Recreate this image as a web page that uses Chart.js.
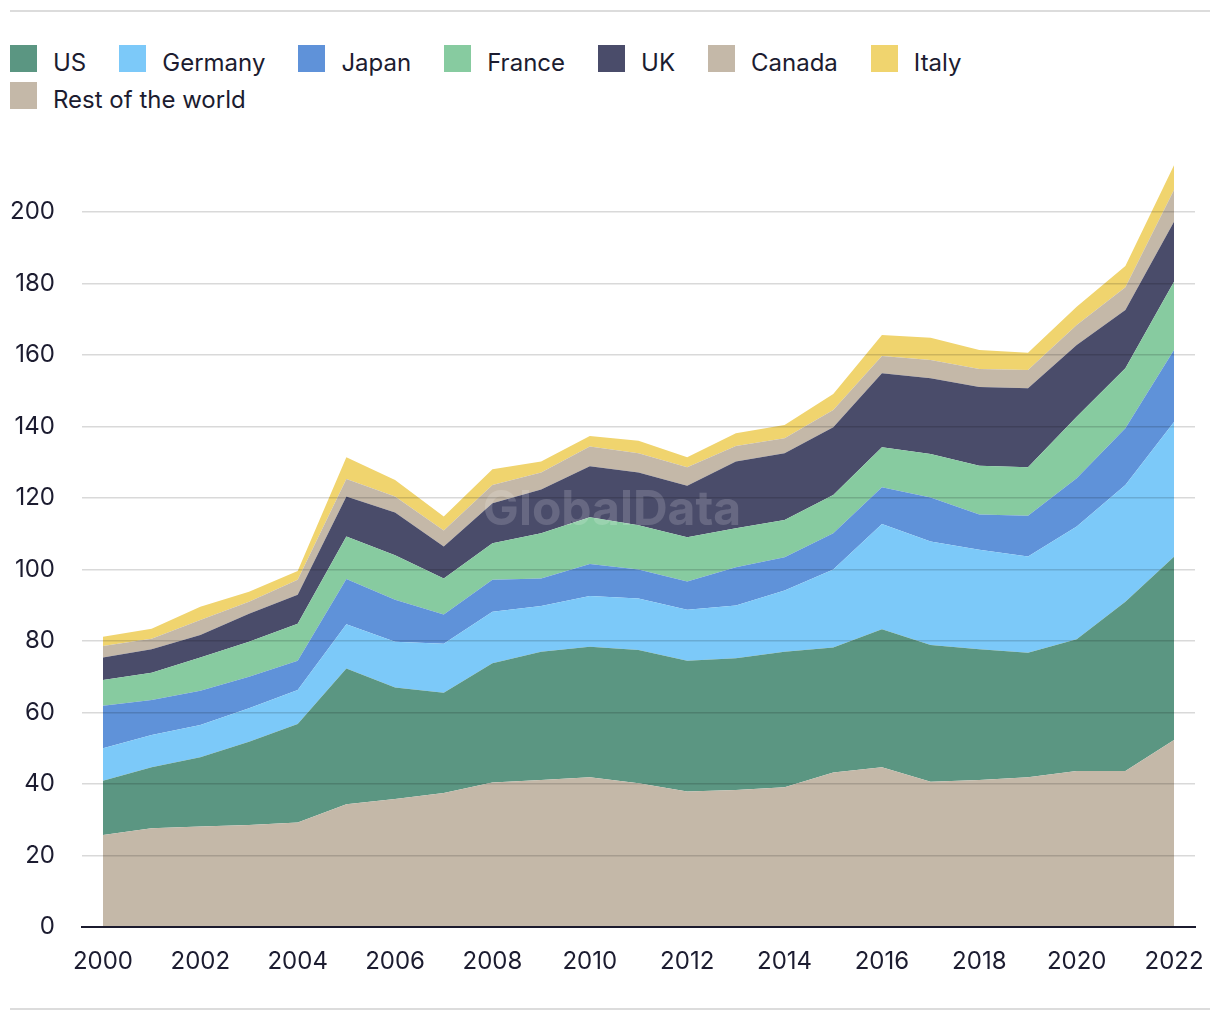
<!DOCTYPE html>
<html>
<head>
<meta charset="utf-8">
<script src="https://cdn.jsdelivr.net/npm/chart.js@4/dist/chart.umd.min.js"></script>
<style>
  html, body { margin: 0; padding: 0; background: #fff; }
  #wrap { position: relative; width: 1220px; height: 1020px; overflow: hidden; }
  .rule { position: absolute; left: 10px; width: 1200px; height: 2px; background: #dcdcdc; }
  #legend { position: absolute; left: 10px; top: 45px; width: 1100px; display: flex; flex-wrap: wrap; row-gap: 10px; }
  .item { display: flex; align-items: center; height: 27px; margin-right: 33px; }
  .box { width: 27px; height: 27px; margin-right: 16px; }
  .lbl { font-family: Inter, "Liberation Sans", sans-serif; font-size: 24px; color: #1c1c30; position: relative; top: 4px; white-space: nowrap; }
  canvas { position: absolute; left: 0; top: 0; }
</style>
</head>
<body>
<div id="wrap">
  <div class="rule" style="top:10px"></div>
  <div class="rule" style="top:1008px"></div>
  <div id="legend"></div>
  <canvas id="c" width="1220" height="1020"></canvas>
</div>
<script>
// ---- Data ----
const years = [2000,2001,2002,2003,2004,2005,2006,2007,2008,2009,2010,2011,2012,2013,2014,2015,2016,2017,2018,2019,2020,2021,2022];
const xTickLabels = [2000,2002,2004,2006,2008,2010,2012,2014,2016,2018,2020,2022];
const yTickLabels = [0,20,40,60,80,100,120,140,160,180,200];

const restOfWorld = [25.7,27.6,28.1,28.5,29.2,34.3,35.8,37.5,40.4,41.1,41.9,40.2,37.9,38.3,39.1,43.2,44.7,40.6,41.1,41.9,43.6,43.6,52.3];
const us          = [15.2,17.1,19.4,23.3,27.6,38.0,31.2,28.0,33.4,35.9,36.5,37.3,36.6,36.9,37.9,35.0,38.6,38.3,36.6,34.8,36.9,47.4,51.3];
const germany     = [9.1,9.0,9.0,9.4,9.5,12.4,12.8,13.7,14.4,12.8,14.2,14.4,14.2,14.7,17.1,21.8,29.4,28.9,27.8,26.9,31.5,32.6,37.7];
const japan       = [11.9,9.8,9.6,8.8,8.2,12.6,11.7,8.2,8.9,7.7,8.9,8.1,7.9,10.7,9.3,10.1,10.3,12.3,9.9,11.4,13.5,15.9,20.1];
const france      = [7.2,7.6,9.3,9.8,10.3,11.9,12.5,10.1,10.2,12.6,13.1,12.4,12.4,10.9,10.4,10.7,11.2,12.2,13.6,13.6,17.2,16.8,19.1];
const uk          = [6.3,6.6,6.3,7.8,8.1,11.2,11.9,8.9,11.2,12.3,14.3,14.7,14.4,18.7,18.7,19.0,20.7,21.2,22.0,22.1,20.1,16.3,16.8];
const canada      = [3.2,2.9,4.2,3.4,4.2,4.9,4.5,4.5,5.1,4.7,5.5,5.4,5.2,4.3,4.2,4.8,4.8,5.1,5.1,5.1,5.6,6.3,8.9];
const italy       = [2.6,2.8,3.7,2.8,2.5,6.1,4.6,3.9,4.4,3.1,2.9,3.5,2.8,3.6,3.7,4.5,5.9,6.2,5.3,4.8,5.1,6.0,6.9];

// legend order and stacking order
const legendNames = ["US","Germany","Japan","France","UK","Canada","Italy","Rest of the world"];
const stackNames  = ["Rest of the world","US","Germany","Japan","France","UK","Canada","Italy"];
const stackValues = [restOfWorld, us, germany, japan, france, uk, canada, italy];
const colors = {
  "US": "#5b9682",
  "Germany": "#7cc9f9",
  "Japan": "#5f92d9",
  "France": "#87cba0",
  "UK": "#4a4c6a",
  "Canada": "#c4b8a8",
  "Italy": "#f0d46e",
  "Rest of the world": "#c4b8a8"
};

// ---- HTML legend ----
const legendEl = document.getElementById('legend');
legendNames.forEach(n => {
  const it = document.createElement('div'); it.className = 'item';
  const b = document.createElement('div'); b.className = 'box'; b.style.background = colors[n];
  const l = document.createElement('div'); l.className = 'lbl'; l.textContent = n;
  it.appendChild(b); it.appendChild(l); legendEl.appendChild(it);
});

// ---- Chart ----
const datasets = stackNames.map((n, i) => ({
  label: n,
  data: stackValues[i],
  backgroundColor: colors[n],
  borderWidth: 0,
  pointRadius: 0,
  tension: 0,
  fill: i === 0 ? 'origin' : '-1'
}));

const watermark = {
  id: 'watermark',
  afterDatasetsDraw(chart) {
    const ctx = chart.ctx;
    ctx.save();
    ctx.font = 'bold 48px Inter, "Liberation Sans", sans-serif';
    ctx.fillStyle = 'rgba(255,255,255,0.16)';
    ctx.textAlign = 'center';
    ctx.textBaseline = 'alphabetic';
    ctx.fillText('GlobalData', 612, 525);
    ctx.restore();
  }
};

const tickFont = { family: 'Inter, "Liberation Sans", sans-serif', size: 24 };

new Chart(document.getElementById('c'), {
  type: 'line',
  data: { labels: years, datasets },
  options: {
    responsive: false,
    animation: false,
    events: [],
    layout: { padding: { top: 149, right: 25, bottom: 33, left: 0 } },
    plugins: { legend: { display: false }, tooltip: { enabled: false } },
    scales: {
      x: {
        type: 'linear',
        min: 1999.57,
        max: 2022.43,
        afterBuildTicks: (axis) => { axis.ticks = xTickLabels.map(v => ({ value: v })); },
        afterFit: (axis) => { axis.height = 60; axis.paddingLeft = 0; axis.paddingRight = 0; },
        grid: { display: false, drawTicks: false },
        border: { display: true, color: '#1b1b2e', width: 2, z: 2 },
        ticks: { font: tickFont, color: '#1c1c30', padding: 20, maxRotation: 0, autoSkip: false,
                 callback: (v) => String(v) }
      },
      y: {
        stacked: true,
        min: 0,
        max: 217.6,
        afterBuildTicks: (axis) => { axis.ticks = yTickLabels.map(v => ({ value: v })); },
        afterFit: (axis) => { axis.width = 82; axis.paddingTop = 0; axis.paddingBottom = 0; },
        grid: { z: 1, drawTicks: false, lineWidth: 1.5,
                color: (ctx) => ctx.tick && ctx.tick.value === 0 ? 'rgba(0,0,0,0)' : 'rgba(0,0,0,0.15)' },
        border: { display: false },
        ticks: { font: tickFont, color: '#1c1c30', padding: 27 }
      }
    }
  },
  plugins: [watermark]
});
</script>
</body>
</html>
